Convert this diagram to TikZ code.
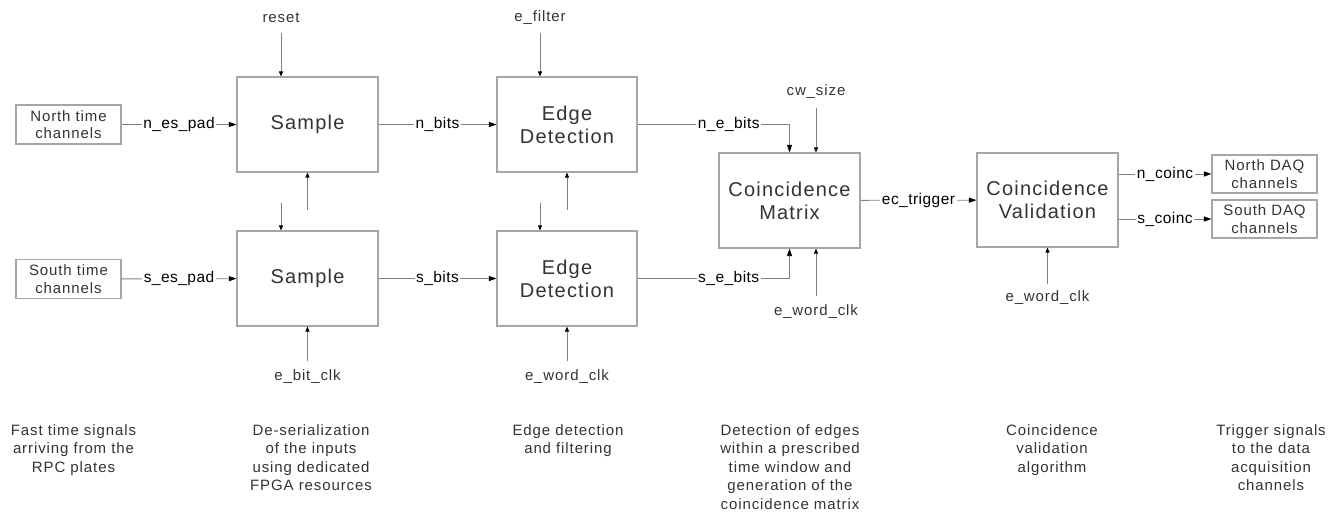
\documentclass[tikz,border=0pt]{standalone}
\usepackage{fontspec}
\setmainfont{Liberation Sans}
\newfontfamily\lsp{Liberation Sans}[LetterSpace=6]
\newfontfamily\lspb{Liberation Sans}[LetterSpace=3]
\usetikzlibrary{arrows.meta}
\definecolor{boxc}{HTML}{A6A6A6}
\definecolor{linec}{HTML}{808080}
\definecolor{txtc}{HTML}{333333}
\tikzset{
  blk/.style={draw=boxc, line width=1.1pt, minimum width=141pt, minimum height=95pt, inner sep=0pt, align=center, text=txtc, font=\lsp\fontsize{20}{23}\selectfont},
  chan/.style={draw=boxc, line width=1.1pt, minimum width=105pt, minimum height=39pt, inner sep=0pt, align=center, text=txtc, font=\lsp\fontsize{15}{17.5}\selectfont},
  conn/.style={draw=linec, line width=0.8pt, -{Triangle[length=7.5pt,width=5pt,color=black]}},
  vconn/.style={draw=linec, line width=0.8pt, -{Triangle[length=5pt,width=4pt,color=black]}},
  lab/.style={fill=white, inner sep=1.5pt, text=black, font=\lspb\fontsize{15.5}{17}\selectfont},
  sig/.style={inner sep=0pt, text=txtc, font=\lsp\fontsize{15}{17}\selectfont},
  desc/.style={inner sep=0pt, anchor=north, align=center, text=txtc, font=\lsp\fontsize{15}{18.5}\selectfont}
}
\begin{document}
\begin{tikzpicture}[x=1pt,y=-1pt]
\useasboundingbox (0,0) rectangle (1341,514);
% blocks
\node[chan] (nt) at (68.5,124.5) {North time\\channels};
\node[chan] (st) at (68.5,279) {South time\\channels};
\node[blk] (sa1) at (307.5,124.5) {Sample};
\node[blk] (sa2) at (307.5,278.5) {Sample};
\node[blk, minimum width=140pt] (ed1) at (567,124.5) {Edge\\Detection};
\node[blk, minimum width=140pt] (ed2) at (567,278.5) {Edge\\Detection};
\node[blk] (cm) at (789.5,200.5) {Coincidence\\Matrix};
\node[blk, minimum height=94pt] (cv) at (1047.5,200) {Coincidence\\Validation};
\node[chan, minimum height=38pt] (nd) at (1264.5,174) {North DAQ\\channels};
\node[chan, minimum height=38pt] (sd) at (1264.5,219) {South DAQ\\channels};
% signal labels (free)
\node[sig] (reset) at (281,18) {reset};
\node[sig] (efilt) at (540,18) {e\_filter};
\node[sig] (cws) at (816,92) {cw\_size};
\node[sig] (ebc) at (307.5,377) {e\_bit\_clk};
\node[sig] (ewc1) at (567,377) {e\_word\_clk};
\node[sig] (ewc2) at (816,312) {e\_word\_clk};
\node[sig] (ewc3) at (1047.5,298) {e\_word\_clk};
% free ends
\coordinate (rsS) at (281,33);
\coordinate (efS) at (540,33);
\coordinate (cwS) at (816,108);
\coordinate (sdn) at (281,203);
\coordinate (sup) at (307.5,210);
\coordinate (edn) at (540,203);
\coordinate (eup) at (567,210);
\coordinate (ebcN) at (307.5,361);
\coordinate (ewc1N) at (567,361);
\coordinate (ewc2N) at (816,296);
\coordinate (ewc3N) at (1047.5,284);
% connectors
\draw[conn] (nt) -- node[lab]{n\_es\_pad} (sa1);
\draw[conn] (st) -- node[lab]{s\_es\_pad} (sa2);
\draw[conn] (sa1) -- node[lab]{n\_bits} (ed1);
\draw[conn] (sa2) -- node[lab]{s\_bits} (ed2);
\draw[conn] (ed1.east) -| node[lab, pos=0.3]{n\_e\_bits} (cm.north);
\draw[conn] (ed2.east) -| node[lab, pos=0.3]{s\_e\_bits} (cm.south);
\draw[conn] (cm) -- node[lab]{ec\_trigger} (cv);
\draw[conn] (cv.east |- nd) -- node[lab]{n\_coinc} (nd.west);
\draw[conn] (cv.east |- sd) -- node[lab]{s\_coinc} (sd.west);
\draw[vconn] (rsS) -- (rsS |- sa1.north);
\draw[vconn] (efS) -- (efS |- ed1.north);
\draw[vconn] (cwS) -- (cwS |- cm.north);
\draw[vconn] (sdn) -- (sdn |- sa2.north);
\draw[vconn] (sup) -- (sa1.south);
\draw[vconn] (edn) -- (edn |- ed2.north);
\draw[vconn] (eup) -- (ed1.south);
\draw[vconn] (ebcN) -- (sa2.south);
\draw[vconn] (ewc1N) -- (ed2.south);
\draw[vconn] (ewc2N) -- (ewc2N |- cm.south);
\draw[vconn] (ewc3N) -- (cv.south);
% descriptions
\node[desc] (d1) at (73.5,424) {Fast time signals\\arriving from the\\RPC plates};
\node[desc] (d2) at (311,424) {De-serialization\\of the inputs\\using dedicated\\FPGA resources};
\node[desc] (d3) at (568,424) {Edge detection\\and filtering};
\node[desc] (d4) at (790,424) {Detection of edges\\within a prescribed\\time window and\\generation of the\\coincidence matrix};
\node[desc] (d5) at (1052,424) {Coincidence\\validation\\algorithm};
\node[desc] (d6) at (1271,424) {Trigger signals\\to the data\\acquisition\\channels};
\end{tikzpicture}
\end{document}
